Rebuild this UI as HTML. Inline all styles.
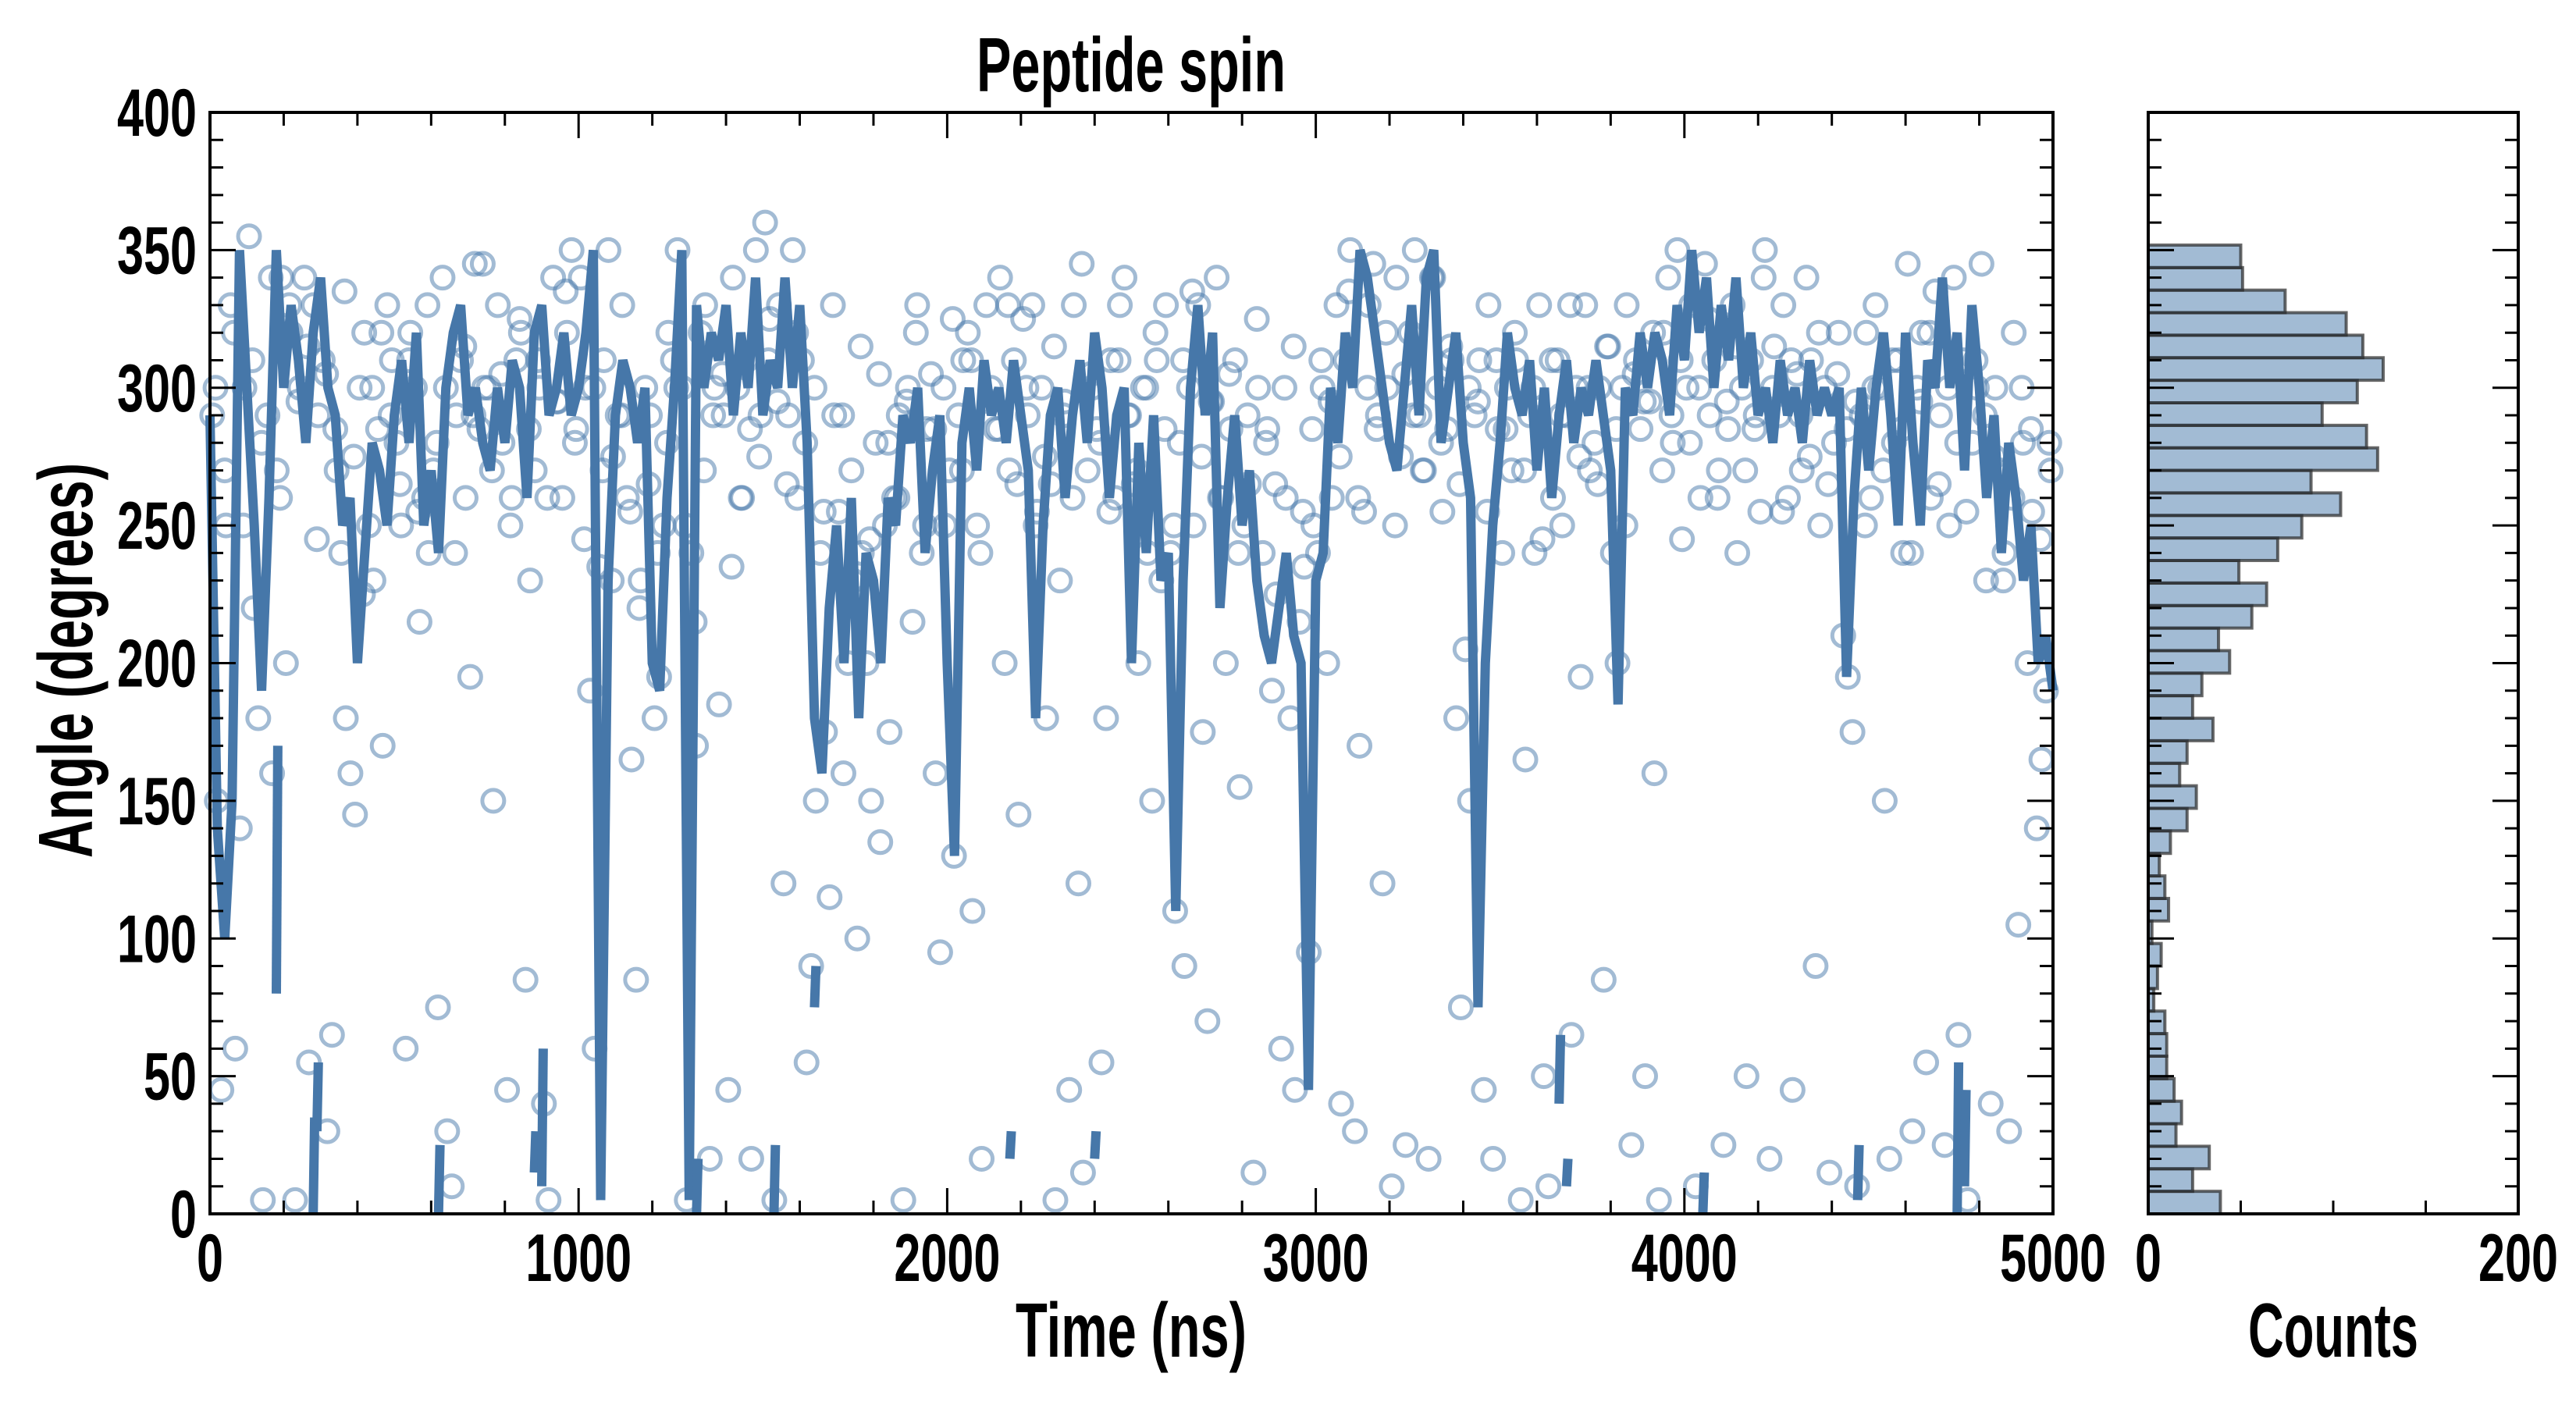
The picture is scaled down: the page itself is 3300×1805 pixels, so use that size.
<!DOCTYPE html>
<html><head><meta charset="utf-8"><style>
html,body{margin:0;padding:0;background:#fff;}
svg text{font-family:"Liberation Sans Narrow","Liberation Sans",sans-serif;font-weight:bold;fill:#000;}
</style></head><body>
<svg id="chart" width="3300" height="1800" viewBox="0 0 3300 1800" xmlns="http://www.w3.org/2000/svg">
<rect width="3300" height="1800" fill="#fff"/>
<g id="scatter"></g>
<g id="lines"></g>
<g id="hist"></g>
<g id="axes"></g>
<text x="1449" y="117" text-anchor="middle" font-size="98" textLength="396" lengthAdjust="spacingAndGlyphs">Peptide spin</text>
<text x="1449" y="1738" text-anchor="middle" font-size="98" textLength="296" lengthAdjust="spacingAndGlyphs">Time (ns)</text>
<text x="2989" y="1738" text-anchor="middle" font-size="98" textLength="218" lengthAdjust="spacingAndGlyphs">Counts</text>
<text transform="translate(118,846) rotate(-90)" x="0" y="0" text-anchor="middle" font-size="98" textLength="506" lengthAdjust="spacingAndGlyphs">Angle (degrees)</text>
</svg>
<script>
const scatterVals = [
290,150,45,250,330,60,140,300,355,220,180,5,290,160,270,340,200,320,5,300,
340,55,330,290,310,30,65,270,240,180,160,145,300,320,250,230,285,170,330,310,
280,250,60,320,300,215,260,240,270,75,340,30,10,290,310,260,195,345,285,300,
300,150,330,280,45,260,310,320,85,230,270,300,40,5,340,295,260,320,350,285,
340,300,190,60,235,310,350,275,290,330,260,165,85,230,300,290,180,195,250,320,
310,350,300,5,240,170,320,330,20,300,185,290,45,340,300,260,310,20,350,290,
360,325,5,330,120,290,350,260,310,55,90,150,240,175,115,290,255,160,200,230,
100,240,200,150,280,135,250,175,260,290,5,300,215,330,240,285,305,160,95,250,
270,130,290,310,320,110,250,20,330,300,285,340,200,270,310,145,325,290,330,255,
300,180,265,5,230,295,45,330,120,15,270,300,285,55,180,310,260,330,340,290,
265,200,300,240,150,310,230,330,240,110,280,90,300,250,330,175,70,295,340,260,
200,285,310,155,250,265,15,300,240,285,190,225,60,260,180,45,215,235,95,250,
240,300,200,260,330,40,310,350,30,170,255,330,345,290,120,300,10,340,275,25,
320,350,290,270,20,340,300,255,285,310,180,75,205,150,290,310,45,330,20,285,
240,300,270,310,5,165,290,240,330,50,10,260,310,250,290,65,300,195,330,270,
280,300,85,315,240,200,300,330,25,310,285,50,295,160,5,320,340,280,350,245,
300,330,10,260,345,290,310,270,25,285,330,240,300,50,310,290,255,350,20,315,
290,330,260,45,305,270,340,310,90,250,300,15,280,320,210,195,175,10,290,320,
260,330,300,150,20,280,310,240,345,30,300,320,55,260,335,290,25,250,340,65,
310,5,280,300,345,230,40,300,270,240,30,320,105,280,200,255,140,165,190,270
];
const scatterStep = 12.5;
const scatterVals2 = [
300,270,320,250,310,280,340,260,330,295,315,245,305,285,335,275,225,300,320,290,
265,310,255,330,280,300,240,315,290,345,270,305,250,325,285,310,260,295,335,280,
245,300,270,230,290,255,220,265,240,280,300,250,215,270,290,305,235,260,285,275,
310,295,265,320,280,300,255,330,290,270,315,245,305,280,260,295,320,250,285,300,
325,270,310,240,295,285,330,265,300,250,275,315,290,260,345,305,280,255,310,290,
270,300,320,285,250,310,335,275,295,260,305,240,290,325,280,265,300,315,255,285,
310,295,275,335,260,300,285,320,250,305,290,270,340,280,315,265,300,295,255,310,
285,320,270,300,245,310,290,330,275,300,265,315,285,250,305,295,320,270,290,310,
280,300,325,260,295,315,270,285,340,300,255,310,290,275,320,265,305,285,295,250,
300,270,310,285,240,295,320,265,300,280,255,310,290,275,230,260,300,285,245,280
];
const scatterStep2 = 25;
const lineVals = [
290,140,100,150,350, 300,250,190,260,350, 300,330,310,280,320, 340,300,290,250,260,
200,240,280,270,250, 290,310,280,320,250, 270,240,300,320,330, 290,300,280,270,300,
280,310,300,260,320, 330,290,300,320,290, 300,320,350,5,230, 290,310,300,280,300,
200,190,260,300,350, 5,330,300,320,310, 330,290,320,300,340, 290,310,300,340,300,
330,280,180,160,220, 250,200,260,180,240, 230,200,260,250,290, 280,300,240,270,290,
200,130,280,300,270, 310,290,300,280,310, 290,270,180,250,290, 300,260,290,310,280,
320,300,260,290,300, 200,280,240,290,230, 240,110,230,300,330, 290,320,220,260,290,
250,270,230,210,200, 220,240,210,200,45, 230,240,300,280,320, 300,350,340,320,300,
280,270,300,330,290, 340,350,280,300,320, 280,260,75,200,250, 280,320,300,290,310,
270,300,260,290,310, 280,300,290,310,290, 270,185,300,290,320, 300,320,310,290,330,
310,350,320,340,300, 330,310,340,300,320, 290,300,280,310,290, 300,280,310,290,300,
290,300,195,260,300, 270,300,320,290,250, 320,280,250,310,300, 340,300,320,270,330,
300,260,290,240,280, 260,230,250,200,210, 190
];
const lineStep = 20;
const segTimes = [180,280,290,620,880,900,1320,1530,1640,2170,2400,3660,3680,4050,4470,4740,4760];
const segStart = [80,0,30,0,15,10,0,0,75,20,20,40,10,0,5,0,10];
const segEnd = [170,35,55,25,30,60,20,25,90,30,30,65,20,15,25,55,45];
const histCounts = [39,24,33,15,18,14,10,10,9,3,5,7,2,11,9,6,12,21,26,17,21,35,24,29,44,38,56,64,49,70,83,104,88,124,118,94,113,127,116,107,74,51,50];
const histBinWidth = 360/44;
const xTicks = [0,1000,2000,3000,4000,5000];
const yTicks = [0,50,100,150,200,250,300,350,400];
const hTicks = [0,200];

const NS="http://www.w3.org/2000/svg";
const PL=269,PR=2630,PT=144,PB=1555,HL=2752,HR=3226;
const xs=t=>PL+(t/5000)*(PR-PL);
const ys=v=>PB-(v/400)*(PB-PT);
const hx=c=>HL+(c/200)*(HR-HL);
function mk(tag,attrs,parent){const e=document.createElementNS(NS,tag);for(const k in attrs)e.setAttribute(k,attrs[k]);parent.appendChild(e);return e;}
const BLUE="#4677a9";
const gS=document.getElementById('scatter');
scatterVals.forEach((v,i)=>{
  const c=mk('circle',{cx:xs(i*scatterStep+6),cy:ys(v),r:14,fill:'none',stroke:'rgba(70,119,169,0.5)','stroke-width':5},gS);
  
  
});
scatterVals2.forEach((v,i)=>{
  const c=mk('circle',{cx:xs(i*scatterStep2+15),cy:ys(v),r:14,fill:'none',stroke:'rgba(70,119,169,0.5)','stroke-width':5},gS);
  
  
});
const gL=document.getElementById('lines');
const pts=lineVals.map((v,i)=>xs(i*lineStep).toFixed(1)+','+ys(v).toFixed(1)).join(' ');
const pl=mk('polyline',{points:pts,fill:'none',stroke:BLUE,'stroke-width':12,'stroke-linejoin':'miter','stroke-miterlimit':2},gL);


segTimes.forEach((t,i)=>{
  const s=mk('line',{x1:xs(t),x2:xs(t+4),y1:ys(segStart[i]),y2:ys(segEnd[i]),stroke:BLUE,'stroke-width':12},gL);
  
  
});
const gH=document.getElementById('hist');
histCounts.forEach((c,i)=>{
  const y1=ys(i*histBinWidth),y2=ys((i+1)*histBinWidth);
  const r=mk('rect',{x:HL,y:y2,width:hx(c)-HL,height:y1-y2,fill:'rgba(70,119,169,0.5)',stroke:'rgba(40,40,40,0.7)','stroke-width':4},gH);
  
  
});
const gA=document.getElementById('axes');
function frame(l,r){mk('rect',{x:l,y:PT,width:r-l,height:PB-PT,fill:'none',stroke:'#000','stroke-width':4},gA);}
frame(PL,PR);frame(HL,HR);
function yticksFor(l,r){
  for(let v=0;v<=400;v+=10){const y=ys(v);const L=(v%50===0)?33:17;
    mk('line',{x1:l,x2:l+L,y1:y,y2:y,stroke:'#000','stroke-width':3},gA);
    mk('line',{x1:r,x2:r-L,y1:y,y2:y,stroke:'#000','stroke-width':3},gA);}
}
yticksFor(PL,PR);yticksFor(HL,HR);
for(let t=0;t<=5000;t+=200){const x=xs(t);const L=(t%1000===0)?33:17;
  mk('line',{x1:x,x2:x,y1:PB,y2:PB-L,stroke:'#000','stroke-width':3},gA);
  mk('line',{x1:x,x2:x,y1:PT,y2:PT+L,stroke:'#000','stroke-width':3},gA);}
for(let c=0;c<=200;c+=50){const x=hx(c);
  mk('line',{x1:x,x2:x,y1:PB,y2:PB-17,stroke:'#000','stroke-width':3},gA);}
function label(txt,x,y,anchor,name,w){
  const t=mk('text',{x:x,y:y,'text-anchor':anchor,'font-size':86,textLength:w,lengthAdjust:'spacingAndGlyphs'},gA);
  t.textContent=txt;
  
  
}
yTicks.forEach(v=>{const s=String(v);label(s,252,ys(v)+30,'end','y-tick-label',s.length*34);});
xTicks.forEach(v=>{const s=String(v);label(s,xs(v),1641,'middle','x-tick-label',s.length*34);});
hTicks.forEach(v=>{const s=String(v);label(s,hx(v),1641,'middle','hist-x-tick-label',s.length*34);});
</script>
</body></html>
